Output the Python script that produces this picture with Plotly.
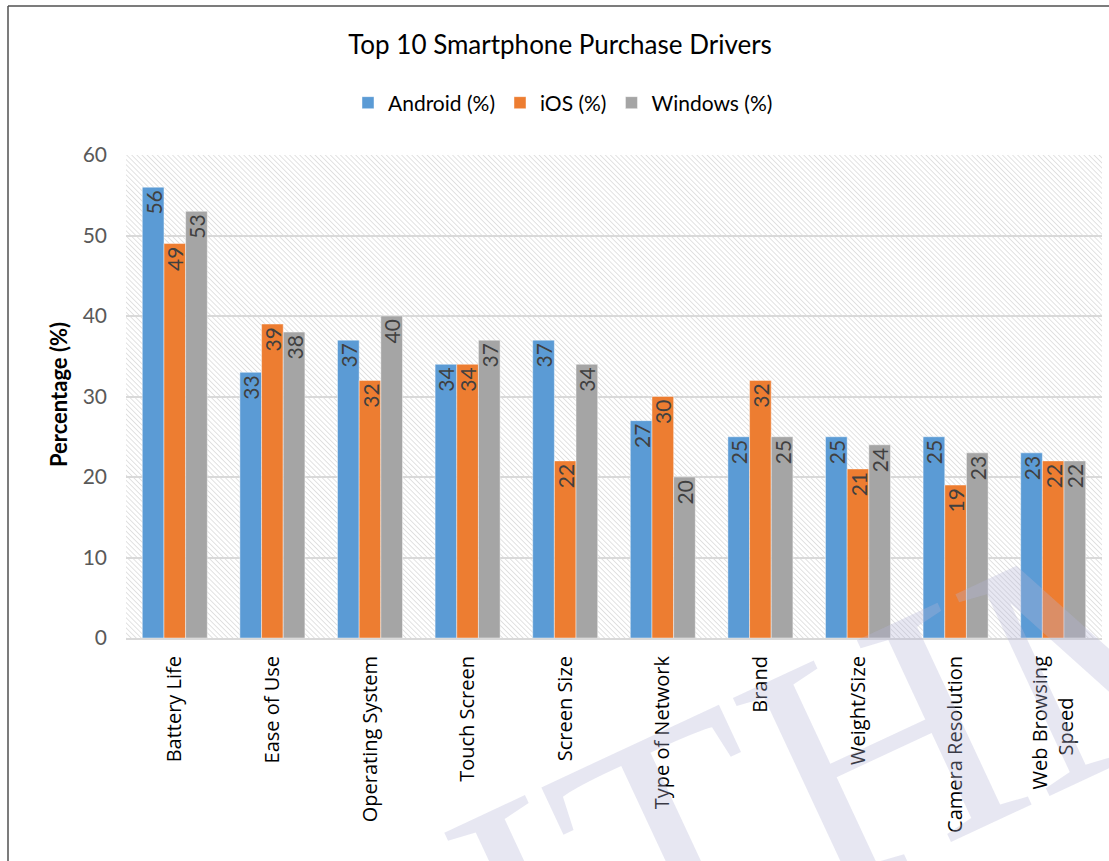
import base64
import plotly.graph_objects as go

categories = ["Battery Life", "Ease of Use", "Operating System", "Touch Screen", "Screen Size",
              "Type of Network", "Brand", "Weight/Size", "Camera Resolution", "Web Browsing<br>Speed"]
tick_labels = ["Battery Life", "Ease of Use", "Operating System", "Touch Screen", "Screen Size",
               "Type of Network", "Brand", "Weight/Size", "Camera Resolution",
               "Web Browsing<br>Speed" + "\u00a0" * 8]
android = [56, 33, 37, 34, 37, 27, 25, 25, 25, 23]
ios = [49, 39, 32, 34, 22, 30, 32, 21, 19, 22]
windows = [53, 38, 40, 37, 34, 20, 25, 24, 23, 22]
series_names = ["Android (%)", "iOS (%)", "Windows (%)"]
series_colors = ["#5B9BD5", "#ED7D31", "#A5A5A5"]
y_ticks = [0, 10, 20, 30, 40, 50, 60]

W, H = 1109, 861
L, R, T, B = 126, 7, 155, 223
PW, PH = W - L - R, H - T - B

fig = go.Figure()
for name, vals, col in zip(series_names, [android, ios, windows], series_colors):
    fig.add_trace(go.Bar(
        x=categories, y=vals, name=name,
        marker=dict(color=col, line=dict(color="rgba(255,255,255,0.55)", width=0.8)),
        text=[str(v) for v in vals], textposition="inside", insidetextanchor="end",
        textangle=-90, constraintext="none",
        textfont=dict(family="Lato, Calibri, sans-serif", size=21, color="#404040"),
        cliponaxis=False,
    ))

# hatch background
svg = (f'<svg xmlns="http://www.w3.org/2000/svg" width="{PW}" height="{PH}">'
       '<defs><pattern id="p" patternUnits="userSpaceOnUse" width="3.6" height="3.6" '
       'patternTransform="rotate(-45)"><line x1="0" y1="0" x2="0" y2="3.6" '
       'stroke="#d3d3d3" stroke-width="1.3"/></pattern></defs>'
       f'<rect width="{PW}" height="{PH}" fill="white"/>'
       f'<rect width="{PW}" height="{PH}" fill="url(#p)"/></svg>')
src = "data:image/svg+xml;base64," + base64.b64encode(svg.encode()).decode()

def px_x(p):
    return (p - L) / PW

def px_y(p):
    return (H - B - p) / PH

fig.update_layout(
    width=W, height=H,
    margin=dict(l=L, r=R, t=T, b=B, pad=0),
    paper_bgcolor="white", plot_bgcolor="rgba(0,0,0,0)",
    barmode="group", bargap=0.334, bargroupgap=0,
    uniformtext=dict(minsize=21, mode="show"),
    title=dict(text="Top 10 Smartphone Purchase Drivers", x=560 / W, xanchor="center",
               y=1 - 45 / H, yanchor="middle",
               font=dict(family="Lato, Calibri, sans-serif", size=26, color="#000000")),
    legend=dict(orientation="h", x=px_x(563), xanchor="center", y=px_y(103), yanchor="middle",
                font=dict(family="Lato, Calibri, sans-serif", size=21, color="#000000"),
                traceorder="normal", itemwidth=30, bgcolor="rgba(0,0,0,0)"),
    xaxis=dict(tickangle=-90, tickfont=dict(family="Open Sans, sans-serif", size=20, color="#000000"),
               tickmode="array", tickvals=categories, ticktext=tick_labels,
               showgrid=False, showline=True, linecolor="#d9d9d9", linewidth=2,
               ticks="", ticklabelstandoff=8, fixedrange=True),
    yaxis=dict(range=[0, 60], tickvals=y_ticks, showgrid=True, gridcolor="#d9d9d9", gridwidth=2,
               zeroline=False, showline=False, ticks="", ticklabelstandoff=18,
               tickfont=dict(family="Lato, Calibri, sans-serif", size=21, color="#595959"),
               fixedrange=True),
    images=[dict(source=src, xref="paper", yref="paper", x=0, y=1, sizex=1, sizey=1,
                 xanchor="left", yanchor="top", sizing="stretch", layer="below")],
    showlegend=True,
)

annotations = [
    dict(text="<b>Percentage (%)</b>", xref="paper", yref="paper", x=px_x(58), y=0.503,
         textangle=-90, showarrow=False, xanchor="center", yanchor="middle",
         font=dict(family="Lato, Calibri, sans-serif", size=22, color="#000000")),
    dict(text="ITHM", xref="paper", yref="paper", x=px_x(872), y=px_y(752),
         textangle=-25, showarrow=False, xanchor="center", yanchor="middle",
         font=dict(family="Liberation Serif, serif", size=340, color="rgba(180,180,215,0.32)")),
]
fig.update_layout(annotations=annotations)

shapes = [
    dict(type="line", xref="paper", yref="paper", x0=px_x(8), x1=px_x(8), y0=px_y(870), y1=px_y(6),
         line=dict(color="#505050", width=1.5)),
    dict(type="line", xref="paper", yref="paper", x0=px_x(8), x1=px_x(1115), y0=px_y(6), y1=px_y(6),
         line=dict(color="#505050", width=1.5)),
]
fig.update_layout(shapes=shapes)

fig.write_html("out.html", config=dict(displayModeBar=False))
